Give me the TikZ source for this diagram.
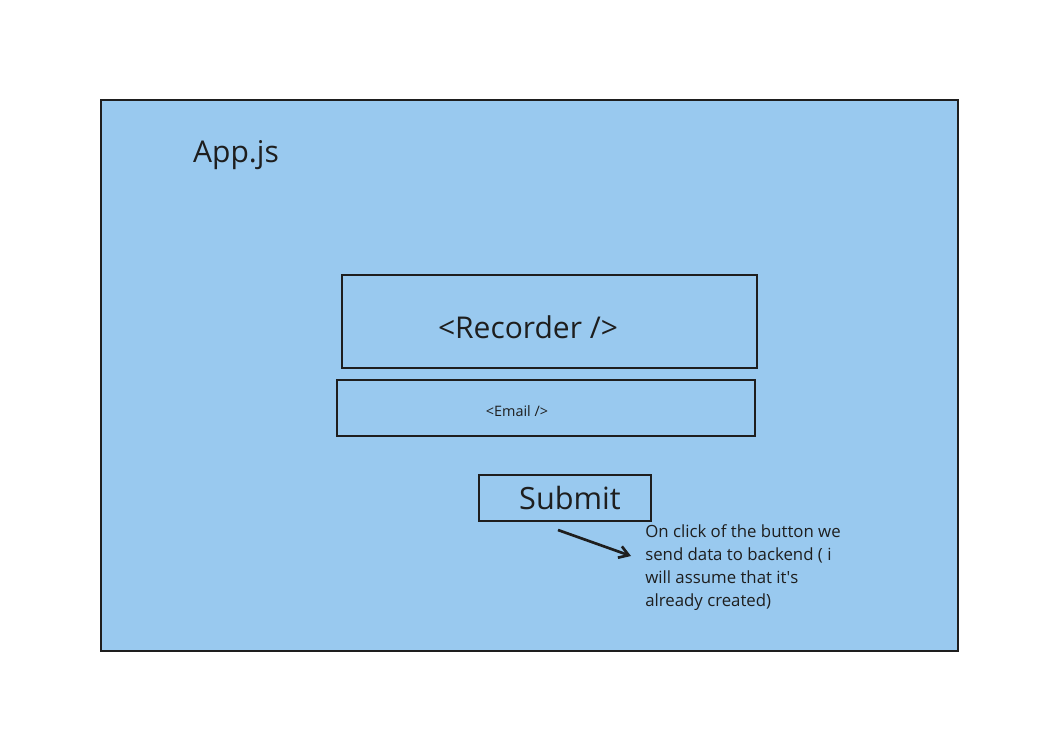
\documentclass[tikz,border=0pt]{standalone}
\usepackage{fontspec}
\usetikzlibrary{arrows.meta}
\setmainfont{Open Sans}
\definecolor{appblue}{RGB}{153,201,239}
\definecolor{inkline}{RGB}{30,30,30}
\begin{document}
\begin{tikzpicture}[x=0.75pt,y=-0.75pt]
        \tikzset{box/.style={draw=inkline,line width=1.5pt,inner sep=0pt},
          label/.style={text=inkline,inner sep=0pt},
          note/.style={label,align=left,anchor=north west,font=\fontsize{12.6}{17.3}\selectfont}}
        \useasboundingbox (0,0) rectangle (1059,753);
        \draw[box,fill=appblue] (101,100) rectangle (958,651);
        \node[label,font=\fontsize{22.5}{26}\selectfont] (app) at (236,155) {App.js};
        \draw[box] (342,275) rectangle (757,368);
        \node[label,font=\fontsize{22.5}{26}\selectfont] (recorder) at (528,327) {<Recorder />};
        \draw[box] (337,380) rectangle (755,436);
        \node[label,font=\fontsize{10.8}{13}\selectfont] (email) at (517,411) {<Email />};
        \draw[box] (479,475) rectangle (651,521);
        \node[label,font=\fontsize{23}{27}\selectfont] (submit) at (570,498) {Submit};
        \coordinate (tail) at (558,530);
        \coordinate (head) at (631,556);
        \node[note] (info) at (645,524) {On click of the button we\\send data to backend ( i\\will assume that it\textquotesingle s\\already created)};
        \draw[inkline,line width=2pt,-{Straight Barb[length=7pt,width=9pt]}] (tail) -- (head);
      \end{tikzpicture}
\end{document}
